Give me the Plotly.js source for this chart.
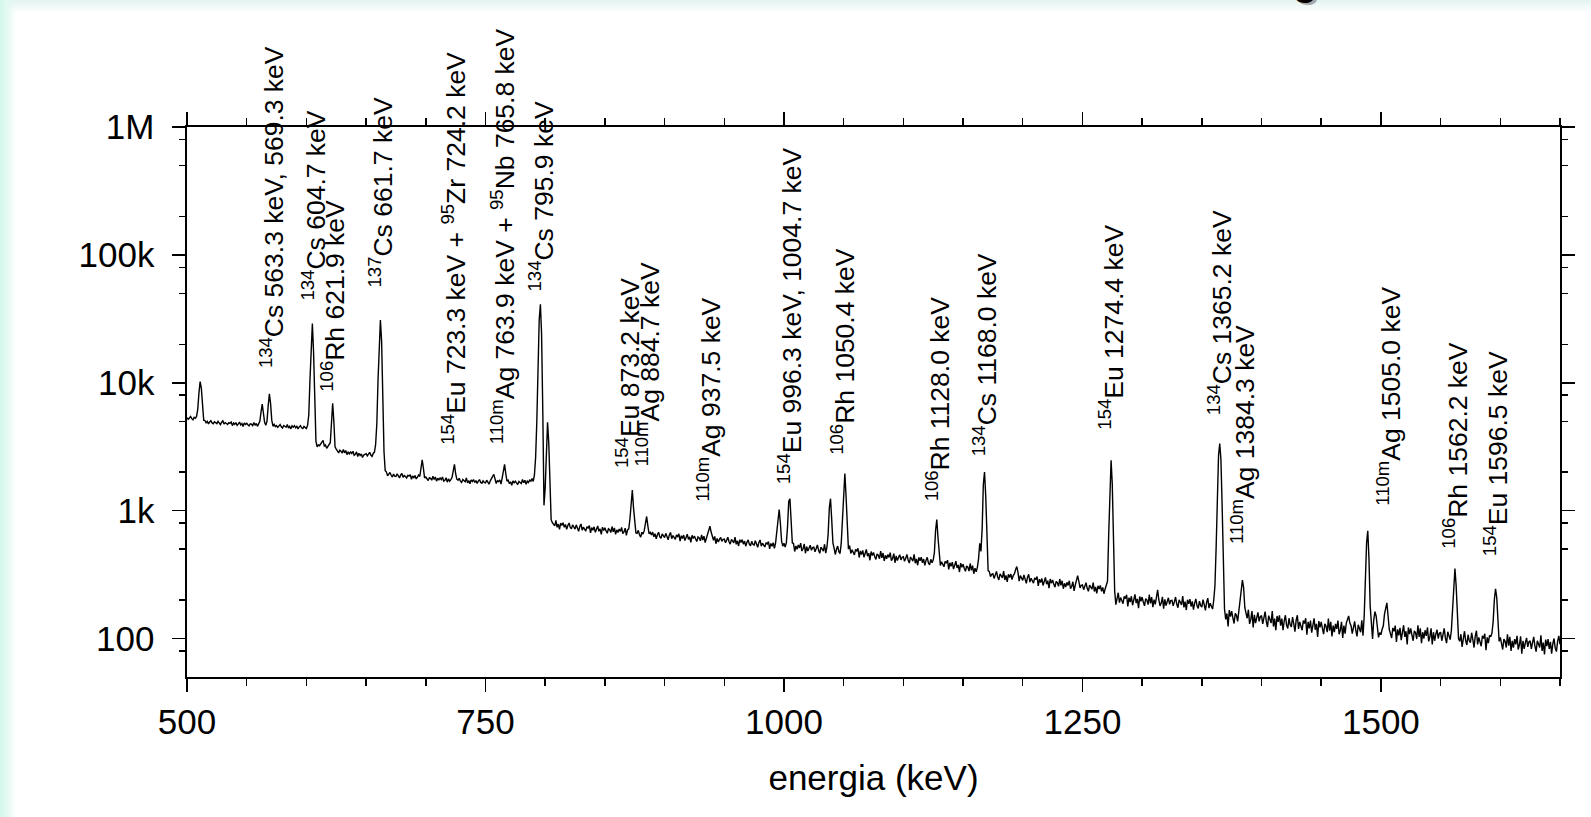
<!DOCTYPE html>
<html>
<head>
<meta charset="utf-8">
<script src="https://cdn.plot.ly/plotly-3.0.1.min.js"></script>
<style>
  html, body {
    margin: 0; padding: 0; width: 1591px; height: 817px; overflow: hidden;
    background:
      linear-gradient(to right, rgb(212,247,235) 0px, rgb(226,249,242) 7px, rgba(255,255,255,0) 16px),
      linear-gradient(to bottom, rgb(226,244,240) 0px, rgba(236,248,245,0.8) 6px, rgba(255,255,255,0) 13px),
      #ffffff;
  }
  #chart { width: 1591px; height: 817px; }
</style>
</head>
<body>
<div id="chart"></div>
<script>
// Gamma spectrum, 1 keV per channel starting at 500 keV
const energyStartKeV = 500;
const energyStepKeV = 1;
const counts = [
  5340,5170,5300,5450,5240,5130,5360,5280,5450,6200,8300,10200,9100,6200,5100,5070,4860,4990,4770,4930,5050,4850,4780,4960,4840,
  4790,4990,4840,4700,4910,5030,4750,4880,4800,4720,4880,4820,4930,4620,4850,4730,4880,4640,4770,4920,4680,4790,4550,4850,4720,
  4820,4690,4600,4780,4740,4620,4890,4650,4810,4560,4730,5000,5900,6800,5800,4900,4650,5000,6600,8200,6900,5100,4570,4720,4540,
  4630,4480,4590,4720,4530,4430,4630,4550,4490,4720,4430,4560,4360,4610,4500,4620,4440,4560,4360,4520,4620,4440,4380,4560,4450,
  4390,4650,5600,10500,22000,29000,17500,6000,3500,3150,3260,3220,3330,3450,3550,3200,3260,3070,3170,3290,3400,4800,6900,5000,3150,
  3020,2910,2830,2970,2920,2820,3010,2830,2950,2740,2880,2780,2880,2800,2910,2710,2760,2880,2650,2810,2700,2780,2600,2720,2780,
  2790,2680,2760,2860,2720,2650,2800,2870,3300,4800,10500,23000,31000,21000,8000,2900,2050,2010,1870,1960,1990,1890,1830,1930,1860,
  1850,1940,1870,1800,1900,1950,1820,1880,1850,1800,1890,1860,1910,1760,1870,1810,1880,1770,1830,1900,1850,2200,2500,2150,1800,
  1830,1770,1720,1810,1790,1730,1860,1750,1830,1700,1790,1740,1800,1750,1830,1700,1730,1810,1670,1770,1700,1750,1820,2050,2300,
  1950,1760,1730,1790,1700,1660,1750,1710,1680,1800,1650,1720,1620,1740,1690,1750,1660,1720,1630,1700,1750,1660,1640,1710,1660,
  1650,1730,1670,1610,1710,1760,1850,1920,1780,1630,1710,1690,1740,1610,1800,2100,2300,1950,1700,1730,1630,1680,1580,1710,1650,
  1700,1640,1600,1690,1670,1630,1750,1650,1730,1610,1700,1660,1730,1700,1780,1690,1900,2600,5000,13000,31000,41000,24000,6000,1100,
  1500,3200,4900,3400,1300,850,805,775,760,840,740,785,715,800,765,805,740,780,715,765,800,740,720,775,735,
  716,774,731,689,752,786,703,742,717,692,749,731,763,670,737,702,747,676,715,759,689,721,652,742,700,
  733,694,665,721,709,674,751,683,733,653,708,674,717,688,738,660,681,730,640,707,720,860,1200,1450,1050,
  760,670,665,701,647,620,677,655,700,820,900,760,660,676,644,679,625,660,603,647,677,625,607,657,626,
  615,664,628,592,646,675,604,638,617,596,645,629,658,577,636,605,644,583,617,655,595,624,564,641,606,
  634,599,574,622,611,581,647,589,631,563,610,640,700,755,680,610,586,628,551,607,568,596,618,575,597,
  599,561,588,619,571,547,596,577,561,620,545,581,529,592,563,594,547,578,527,566,591,546,531,575,546,
  537,581,549,517,564,590,527,557,538,520,562,548,573,503,554,527,561,508,560,680,900,1020,800,580,527,
  557,518,560,750,1180,1240,780,560,553,479,530,498,539,511,556,483,503,548,464,524,483,512,536,490,514,
  518,477,506,540,490,464,518,498,482,546,465,520,650,1050,1240,850,560,510,454,499,528,477,462,560,900,
  1600,1950,1300,680,500,532,462,494,472,451,497,481,507,430,484,454,489,432,462,497,440,465,409,479,446,
  470,438,415,458,448,421,482,428,466,404,447,420,453,431,469,407,423,461,391,442,407,431,452,412,432,
  436,401,425,454,411,389,434,416,403,455,388,420,374,431,405,432,391,418,373,408,431,390,377,416,391,
  410,470,700,850,620,430,372,398,381,364,401,388,410,347,391,367,396,349,374,402,356,376,331,388,361,
  381,354,335,369,361,337,386,341,372,321,355,332,360,420,555,480,720,1600,2000,1300,560,340,334,305,318,
  321,295,314,335,303,287,320,307,298,337,287,311,277,318,300,320,289,310,320,345,365,330,281,310,292,
  285,314,292,270,302,318,276,296,283,271,298,289,305,258,291,274,295,260,279,300,266,283,248,292,271,
  287,267,252,279,273,256,292,260,283,245,270,253,275,260,283,245,255,278,236,262,285,310,280,249,261,
  263,241,257,273,247,234,261,250,243,274,233,253,225,258,244,260,234,251,224,244,258,280,650,1700,2480,
  1600,560,235,184,213,228,191,209,198,187,214,205,220,178,209,193,214,182,200,221,189,204,173,213,195,
  211,193,180,205,200,184,220,188,211,176,201,185,215,240,200,180,189,212,171,202,181,196,208,185,198,
  199,180,194,211,186,174,201,190,183,215,175,194,167,201,187,203,178,195,168,189,204,180,172,196,181,
  176,201,184,166,192,207,173,189,179,170,200,260,520,1300,2700,3350,2500,1100,380,170,141,157,124,167,148,
  164,145,131,157,152,136,165,185,240,286,250,175,158,144,168,130,141,164,122,153,132,147,160,136,148,
  151,130,145,162,136,123,151,140,132,164,124,143,116,150,135,152,126,143,116,137,152,127,120,144,128,
  123,147,130,113,139,152,119,135,125,116,138,131,144,107,135,120,138,111,126,144,117,130,103,137,122,
  135,120,108,130,125,112,143,115,135,104,126,112,130,119,138,108,116,135,101,126,109,132,140,150,132,
  126,109,122,136,115,104,128,118,112,139,105,150,280,560,695,420,180,125,99,140,162,150,120,102,111,
  107,118,125,155,180,190,150,118,109,101,121,114,126,94,118,106,121,97,111,127,103,114,90,122,108,
  120,106,96,115,111,99,127,103,120,92,112,100,116,105,122,95,103,120,90,112,96,108,117,100,110,
  112,96,107,120,101,92,113,104,98,115,170,290,352,260,140,100,95,108,86,103,114,96,89,107,96,
  93,111,98,85,104,115,90,102,94,87,105,100,109,81,102,92,106,103,110,135,200,245,210,130,95,
  102,91,82,99,95,85,108,88,103,80,96,85,99,90,105,82,89,104,76,96,83,93,101,86,94,
  96,83,93,103,87,79,96,90,85,106,80,93,75,98,87,99,83,94,76,91,100,84,79,95,105,
  90
];

// Peak identifications
const labelTexts = [
  '<sup>134</sup>Cs 563.3 keV, 569.3 keV',
  '<sup>134</sup>Cs 604.7 keV',
  '<sup>106</sup>Rh 621.9 keV',
  '<sup>137</sup>Cs 661.7 keV',
  '<sup>154</sup>Eu 723.3 keV + <sup>95</sup>Zr 724.2 keV',
  '<sup>110m</sup>Ag 763.9 keV + <sup>95</sup>Nb 765.8 keV',
  '<sup>134</sup>Cs 795.9 keV',
  '<sup>154</sup>Eu 873.2 keV',
  '<sup>110m</sup>Ag 884.7 keV',
  '<sup>110m</sup>Ag 937.5 keV',
  '<sup>154</sup>Eu 996.3 keV, 1004.7 keV',
  '<sup>106</sup>Rh 1050.4 keV',
  '<sup>106</sup>Rh 1128.0 keV',
  '<sup>134</sup>Cs 1168.0 keV',
  '<sup>154</sup>Eu 1274.4 keV',
  '<sup>134</sup>Cs 1365.2 keV',
  '<sup>110m</sup>Ag 1384.3 keV',
  '<sup>110m</sup>Ag 1505.0 keV',
  '<sup>106</sup>Rh 1562.2 keV',
  '<sup>154</sup>Eu 1596.5 keV'
];
const labelEnergyKeV = [570.8, 606.0, 622.7, 662.1, 724.1, 764.3, 796.9, 869.4, 886.2, 937.6,
                        1005.1, 1049.9, 1128.6, 1168.0, 1274.4, 1365.2, 1384.5, 1506.8, 1562.1, 1596.0];
const labelBaseCounts = [12450, 42070, 8280, 53200, 3160, 3160, 50350, 2080, 2140, 1140,
                         1540, 2640, 1140, 2570, 4150, 5430, 524, 1045, 482, 425];

// Axis ticks
const xTickVals = [500, 750, 1000, 1250, 1500];
const yTickVals = [100, 1000, 10000, 100000, 1000000];
const yTickText = ['100', '1k', '10k', '100k', '1M'];
const yMinorVals = [80, 200, 500, 800, 2000, 5000, 8000, 20000, 50000, 80000, 200000, 500000, 800000];

const FONT = 'Liberation Sans, Arial, Helvetica, sans-serif';
const energyKeV = counts.map((_, i) => energyStartKeV + i * energyStepKeV);

const trace = {
  type: 'scatter',
  mode: 'lines',
  x: energyKeV,
  y: counts,
  line: {color: '#000000', width: 1.4},
  hoverinfo: 'skip'
};

const annotations = labelTexts.map((t, i) => ({
  text: t,
  x: labelEnergyKeV[i],
  y: Math.log10(labelBaseCounts[i]),
  xref: 'x', yref: 'y',
  showarrow: false,
  textangle: -90,
  xanchor: 'center',
  yanchor: 'bottom',
  font: {family: FONT, size: 26.5, color: '#000000'}
}));

// tail of the heading letter above the chart
const headX = (1305 - 187) / 1373;
const headY = (677 - 5) / 550;
annotations.push({
  text: '<b>g</b>', xref: 'paper', yref: 'paper', x: headX, y: headY,
  xanchor: 'center', yanchor: 'bottom', showarrow: false,
  xshift: 3, yshift: -2,
  font: {family: FONT, size: 40, color: '#a8a8a8'}
});
annotations.push({
  text: '<b>g</b>', xref: 'paper', yref: 'paper', x: headX, y: headY,
  xanchor: 'center', yanchor: 'bottom', showarrow: false,
  font: {family: FONT, size: 40, color: '#000000'}
});

const layout = {
  width: 1591,
  height: 817,
  margin: {l: 187, r: 31, t: 127, b: 140, pad: 0},
  paper_bgcolor: 'rgba(0,0,0,0)',
  plot_bgcolor: 'rgba(0,0,0,0)',
  font: {family: FONT, color: '#000000'},
  showlegend: false,
  xaxis: {
    range: [500, 1650],
    tickmode: 'array',
    tickvals: xTickVals,
    ticks: 'outside', ticklen: 13, tickwidth: 1.5, tickcolor: '#000000',
    minor: {dtick: 50, tick0: 500, ticks: 'outside', ticklen: 7, tickwidth: 1.5, tickcolor: '#000000', showgrid: false},
    showline: true, linecolor: '#000000', linewidth: 1.6,
    mirror: 'ticks',
    showgrid: false, zeroline: false,
    tickfont: {family: FONT, size: 35, color: '#000000'},
    ticklabelstandoff: 0,
    title: {text: 'energia (keV)', font: {family: FONT, size: 35, color: '#000000'}, standoff: 26}
  },
  yaxis: {
    type: 'log',
    range: [Math.log10(50), 6],
    tickmode: 'array',
    tickvals: yTickVals,
    ticktext: yTickText,
    ticks: 'outside', ticklen: 13, tickwidth: 1.5, tickcolor: '#000000',
    minor: {tickmode: 'array', tickvals: yMinorVals, ticks: 'outside', ticklen: 6, tickwidth: 1.5, tickcolor: '#000000', showgrid: false},
    showline: true, linecolor: '#000000', linewidth: 1.6,
    mirror: 'ticks',
    showgrid: false, zeroline: false,
    tickfont: {family: FONT, size: 35, color: '#000000'},
    ticklabelstandoff: 11
  },
  annotations: annotations
};

Plotly.newPlot('chart', [trace], layout, {staticPlot: true, displayModeBar: false});
</script>
</body>
</html>
